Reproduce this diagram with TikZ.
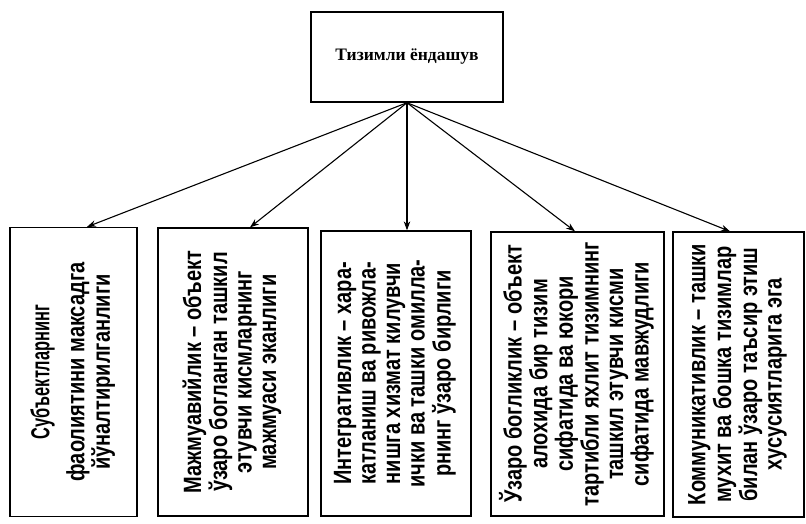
\documentclass[tikz,border=0pt]{standalone}
\usepackage{fontspec}
\setmainfont{Liberation Serif}
\newfontfamily\boxfont[FakeStretch=0.8]{Liberation Sans}
\newfontfamily\bigfont[FakeStretch=0.63]{Liberation Sans}
\usetikzlibrary{arrows.meta}
\tikzset{
  box/.style={draw, line width=1.3pt, inner sep=0pt, align=center},
  topbox/.style={box, line width=1.5pt},
  arr/.style={line width=1.1pt, -{Stealth[length=9pt,width=6.5pt]}},
}
\newcommand{\vtext}[1]{\rotatebox{90}{\boxfont\bfseries\fontsize{25}{24.5}\selectfont\begin{tabular}{@{}c@{}}#1\end{tabular}}}
\begin{document}
\begin{tikzpicture}[x=1pt,y=-1pt]
\useasboundingbox (0,0) rectangle (806,524);
\node[topbox, minimum width=192pt, minimum height=90pt] (top) at (407,57)
  {\bfseries\fontsize{17.5}{20}\selectfont Тизимли ёндашув};
\node[box, minimum width=127pt, minimum height=289pt] (b1) at (73.5,372)
  {\rotatebox{90}{\boxfont\bfseries\fontsize{25}{23}\selectfont\begin{tabular}{@{}c@{}}{\bigfont\bfseries\fontsize{26}{30}\selectfont Субъектларнинг}\\[10pt]
   фаолиятини максадга\\
   йўналтирилганлиги\end{tabular}}};
\node[box, minimum width=150pt, minimum height=288pt] (b2) at (233,372)
  {\vtext{Мажмуавийлик – объект\\ўзаро богланган ташкил\\этувчи кисмларнинг\\мажмуаси эканлиги}};
\node[box, minimum width=150pt, minimum height=285pt] (b3) at (396,373.5)
  {\vtext{Интегративлик – хара-\\катланиш ва ривожла-\\нишга хизмат килувчи\\ички ва ташки омилла-\\рнинг ўзаро бирлиги}};
\node[box, minimum width=173pt, minimum height=284pt] (b4) at (577.5,374)
  {\vtext{Ўзаро богликлик – объект\\алохида бир тизим\\сифатида ва юкори\\тартибли яхлит тизимнинг\\ташкил этувчи кисми\\сифатида мавжудлиги}};
\node[box, minimum width=131pt, minimum height=285pt] (b5) at (738.5,374.5)
  {\vtext{Коммуникативлик – ташки\\мухит ва бошка тизимлар\\билан ўзаро таъсир этиш\\хусусиятларига эга}};
\draw[arr] (top.south) -- ([xshift=13.5pt]b1.north);
\draw[arr] (top.south) -- ([xshift=17pt]b2.north);
\draw[arr] (top.south) -- ([xshift=11pt]b3.north);
\draw[arr] (top.south) -- ([xshift=-2.5pt]b4.north);
\draw[arr] (top.south) -- ([xshift=-8.5pt]b5.north);
\end{tikzpicture}
\end{document}
